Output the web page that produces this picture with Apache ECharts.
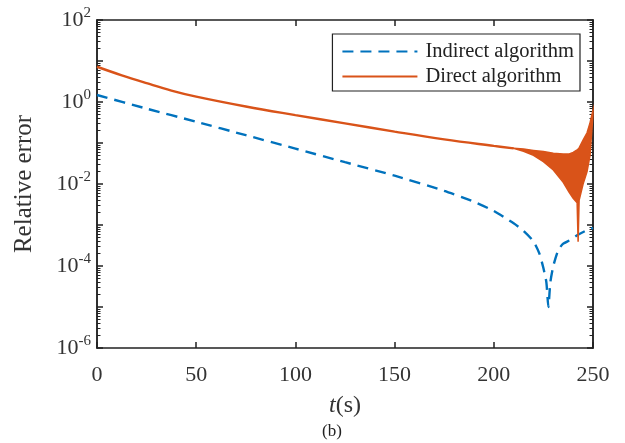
<!DOCTYPE html>
<html>
<head>
<meta charset="utf-8">
<script src="https://cdn.jsdelivr.net/npm/echarts@6/dist/echarts.min.js"></script>
<style>
    html, body { margin: 0; padding: 0; background: #fff; }
    #Root { width: 625px; height: 443px; }
</style>
</head>
<body>
<div id="Root"></div>
<script>
// Indirect algorithm (blue dashed)
let IndirectT = [0, 25, 50, 75, 100, 125, 150, 175, 190, 200, 210, 215, 220, 223, 225, 226.5, 227.5, 228.5, 230, 232.5, 235, 238.5, 242, 246, 250]
let IndirectErr = [1.48, 0.69, 0.33, 0.155, 0.073, 0.034, 0.016, 0.0068, 0.0037, 0.0022, 0.0011, 0.00072, 0.0004, 0.0002, 0.000089, 0.00004, 0.00001, 0.00004, 0.0001, 0.000245, 0.00035, 0.00043, 0.00056, 0.00071, 0.00085]

// Direct algorithm (orange), smooth part
let DirectT = [0, 12.5, 25, 37.5, 50, 75, 100, 125, 150, 175, 200, 210]
let DirectErr = [7.24, 4.47, 2.88, 1.9, 1.35, 0.776, 0.479, 0.302, 0.19, 0.123, 0.085, 0.074]

// Direct algorithm, oscillating band envelope
let BandT = [210, 215, 220, 225, 230, 235, 238, 240, 242, 242.5, 243, 245, 247, 248.5, 250]
let BandHi = [0.074, 0.071, 0.066, 0.062, 0.056, 0.054, 0.054, 0.059, 0.068, 0.071, 0.076, 0.117, 0.178, 0.31, 0.63]
let BandLo = [0.074, 0.063, 0.05, 0.035, 0.022, 0.011, 0.0063, 0.0045, 0.0035, 0.00039, 0.004, 0.01, 0.02, 0.05, 0.5]

// y axis decades and log minor ticks
let YDecades = [-6, -5, -4, -3, -2, -1, 0, 1, 2]
let YMinor = []
YDecades.slice(0, -1).forEach(e => {
    for (let k = 2; k <= 9; k++) YMinor.push(k * Math.pow(10, e))
})

const Blue = '#0072BD'
const Orange = '#D95319'
const Serif = '"Liberation Serif", "DejaVu Serif", serif'

let chart = echarts.init(document.getElementById('Root'))

function zip(xs, ys) {
    return xs.map((x, i) => [x, ys[i]])
}

function expLabel(value) {
    let e = Math.round(Math.log10(value))
    if (e % 2 !== 0) return ''
    return '{b|10}{s|' + e + '}'
}

let axisLineStyle = { color: '#222', width: 1.5 }

function yAxisDef(pos, showLabel, minor) {
    return {
        type: 'log', logBase: 10, min: 1e-6, max: 100, interval: 1,
        position: pos,
        axisLine: { show: true, lineStyle: axisLineStyle },
        axisTick: {
            show: true, inside: true, length: minor ? 3.5 : 6,
            lineStyle: { color: '#222', width: minor ? 1 : 1.5 },
            customValues: minor ? YMinor : YDecades.map(e => Math.pow(10, e))
        },
        splitLine: { show: false },
        axisLabel: showLabel ? {
            formatter: expLabel,
            margin: 6,
            rich: {
                b: { fontFamily: Serif, fontSize: 22, color: '#333' },
                s: { fontFamily: Serif, fontSize: 15, color: '#333', padding: [0, 0, 13, 0] }
            }
        } : { show: false },
        name: showLabel ? 'Relative error' : '',
        nameLocation: 'middle',
        nameGap: 60,
        nameTextStyle: { fontFamily: Serif, fontSize: 25, color: '#333' }
    }
}

let option = {
    animation: false,
    grid: { left: 97, right: 32, top: 20, bottom: 95 },
    legend: {
        orient: 'vertical',
        right: 45,
        top: 34,
        itemWidth: 75,
        itemHeight: 14,
        itemGap: 4,
        padding: [7, 6, 4, 9],
        borderColor: '#222',
        borderWidth: 1.2,
        backgroundColor: '#fff',
        itemStyle: { opacity: 0 },
        textStyle: { fontFamily: Serif, fontSize: 20.5, color: '#222', lineHeight: 18, padding: [0, 0, 0, 3] },
        data: ['Indirect algorithm', 'Direct algorithm']
    },
    xAxis: [
        {
            type: 'value', min: 0, max: 250, interval: 50,
            axisLine: { show: true, lineStyle: axisLineStyle },
            axisTick: { show: true, inside: true, length: 6, lineStyle: axisLineStyle },
            splitLine: { show: false },
            axisLabel: { fontFamily: Serif, fontSize: 22, color: '#333', margin: 16 },
            name: '{i|t}{n|(s)}',
            nameLocation: 'middle',
            nameGap: 46,
            nameTextStyle: {
                rich: {
                    i: { fontFamily: Serif, fontSize: 24, fontStyle: 'italic', color: '#333' },
                    n: { fontFamily: Serif, fontSize: 24, color: '#333' }
                }
            }
        },
        {
            type: 'value', min: 0, max: 250, interval: 50, position: 'top',
            axisLine: { show: true, lineStyle: axisLineStyle },
            axisTick: { show: true, inside: true, length: 6, lineStyle: axisLineStyle },
            axisLabel: { show: false },
            splitLine: { show: false }
        }
    ],
    yAxis: [
        yAxisDef('left', true, false),
        yAxisDef('left', false, true),
        yAxisDef('right', false, false),
        yAxisDef('right', false, true)
    ],
    graphic: [
        {
            type: 'text', left: 322, top: 423,
            style: { text: '(b)', font: '17px ' + Serif, fill: '#222' }
        }
    ],
    series: [
        {
            name: 'Indirect algorithm',
            type: 'line',
            symbol: 'none',
            smooth: 0.2,
            z: 3,
            lineStyle: { color: Blue, width: 2.4, type: [11, 7] },
            itemStyle: { color: Blue },
            data: zip(IndirectT, IndirectErr)
        },
        {
            name: 'Direct algorithm',
            type: 'line',
            symbol: 'none',
            smooth: 0.4,
            z: 4,
            lineStyle: { color: Orange, width: 2.4 },
            itemStyle: { color: Orange },
            data: zip(DirectT, DirectErr)
        },
        {
            name: 'Direct band',
            type: 'custom',
            z: 4,
            data: [[BandT[0], BandHi[0]]],
            renderItem: function (params, api) {
                let pts = []
                for (let i = 0; i < BandT.length; i++) pts.push(api.coord([BandT[i], BandHi[i]]))
                for (let i = BandT.length - 1; i >= 0; i--) pts.push(api.coord([BandT[i], BandLo[i]]))
                return {
                    type: 'polygon',
                    shape: { points: pts, smooth: 0 },
                    style: { fill: Orange, stroke: Orange, lineWidth: 1.5 }
                }
            }
        }
    ]
}

chart.setOption(option)
</script>
</body>
</html>
